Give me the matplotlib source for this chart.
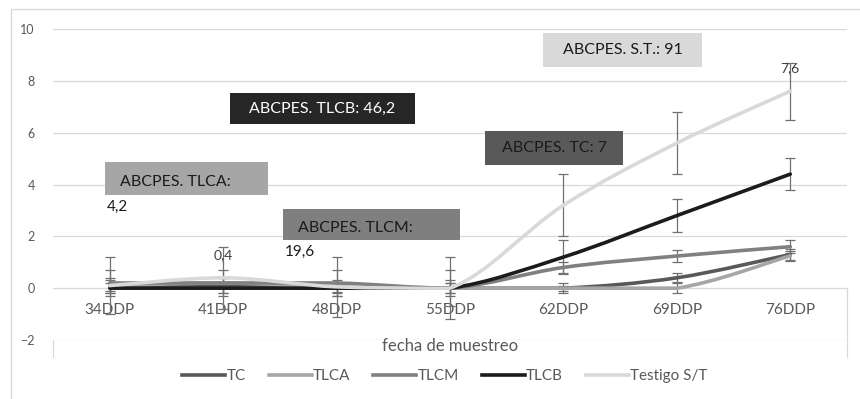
import numpy as np
import matplotlib.pyplot as plt
from matplotlib.path import Path
from matplotlib.patches import PathPatch, Rectangle
from matplotlib.lines import Line2D

plt.rcParams['font.family'] = ['Lato', 'DejaVu Sans']

# sampling dates and series values
fechas = ['34DDP', '41DDP', '48DDP', '55DDP', '62DDP', '69DDP', '76DDP']
tc = [0.1, 0.1, 0.0, 0.0, 0.0, 0.4, 1.3]
tlca = [0.1, 0.2, 0.05, 0.0, 0.0, 0.0, 1.25]
tlcm = [0.2, 0.2, 0.2, 0.0, 0.8, 1.24, 1.6]
tlcb = [0.0, 0.0, 0.0, 0.0, 1.2, 2.8, 4.4]
testigo = [0.1, 0.4, 0.05, 0.0, 3.2, 5.6, 7.6]

# error bar half-widths
err_tc = [0.3, 0.3, 0.3, 0.3, 0.1, 0.17, 0.2]
err_tlca = [0.2, 0.2, 0.2, 0.2, 0.2, 0.2, 0.2]
err_tlcm = [0.5, 0.5, 0.5, 0.7, 0.2, 0.24, 0.25]
err_tlcb = [0.2, 0.2, 0.2, 0.2, 0.65, 0.63, 0.63]
err_testigo = [1.1, 1.2, 1.15, 1.2, 1.2, 1.2, 1.1]

series = [
    ('TC', tc, err_tc, '#595959'),
    ('TLCA', tlca, err_tlca, '#a6a6a6'),
    ('TLCM', tlcm, err_tlcm, '#808080'),
    ('TLCB', tlcb, err_tlcb, '#1c1c1c'),
    ('Testigo S/T', testigo, err_testigo, '#d9d9d9'),
]

# value labels shown on the Testigo series
etiquetas = {1: '0,4', 6: '7,6'}

# summary boxes: text, fill, text colour, overflow text, left/top/right/bottom in px
cajas = [
    ('ABCPES. TLCB: 46,2', '#262626', 'white', None, (230, 93, 415, 124)),
    ('ABCPES. TLCA:', '#a6a6a6', '#1a1a1a', '4,2', (105, 162, 268, 195)),
    ('ABCPES. TLCM:', '#7f7f7f', '#1a1a1a', '19,6', (283, 209, 460, 240)),
    ('ABCPES. TC: 7', '#595959', '#1a1a1a', None, (485, 131, 623, 165)),
    ('ABCPES. S.T.: 91', '#d9d9d9', '#1a1a1a', None, (543, 33, 702, 67)),
]

W, H = 860, 399


def smooth_path(x, y):
    """Bezier path through the points; control points are kept inside each
    segment's value range so flat stretches stay flat."""
    pts = np.column_stack([x, y]).astype(float)
    verts = [pts[0]]
    codes = [Path.MOVETO]
    n = len(pts)
    for i in range(n - 1):
        p0 = pts[max(i - 1, 0)]
        p1 = pts[i]
        p2 = pts[i + 1]
        p3 = pts[min(i + 2, n - 1)]
        c1 = p1 + (p2 - p0) / 6.0
        c2 = p2 - (p3 - p1) / 6.0
        lo, hi = min(p1[1], p2[1]), max(p1[1], p2[1])
        c1[1] = np.clip(c1[1], lo, hi)
        c2[1] = np.clip(c2[1], lo, hi)
        verts += [c1, c2, p2]
        codes += [Path.CURVE4] * 3
    return Path(verts, codes)


def px(x, y):
    return x / W, 1 - y / H


fig = plt.figure(figsize=(8.6, 3.99), dpi=100)
ax = fig.add_axes([53 / W, (H - 340) / H, 794 / W, 311 / H])

x = np.arange(len(fechas))
for nombre, vals, err, color in series:
    ax.errorbar(x, vals, yerr=err, fmt='none', ecolor='#707070',
                elinewidth=0.9, capsize=3.5, capthick=0.9, zorder=2)
for nombre, vals, err, color in series:
    ax.add_patch(PathPatch(smooth_path(x, vals), facecolor='none',
                           edgecolor=color, lw=2.6, zorder=3,
                           capstyle='round', joinstyle='round'))

for i, txt in etiquetas.items():
    ax.annotate(txt, (x[i], testigo[i]), xytext=(0, 12), textcoords='offset points',
                ha='center', va='bottom', fontsize=10, color='#404040', zorder=4)

ax.set_xlim(-0.5, len(fechas) - 0.5)
ax.set_ylim(-2, 10)
ax.set_yticks(range(-2, 11, 2))
ax.set_xticks(x)
ax.set_xticklabels(fechas)
ax.grid(axis='y', color='#d9d9d9', lw=0.9)
ax.set_axisbelow(True)
for s in ['top', 'left', 'right']:
    ax.spines[s].set_visible(False)
ax.spines['bottom'].set_position(('data', 0))
ax.spines['bottom'].set_color('#d9d9d9')
ax.tick_params(axis='both', length=0, labelcolor='#595959')
ax.tick_params(axis='y', pad=13, labelsize=9)
ax.tick_params(axis='x', pad=11, labelsize=11)

fig.text(*px(450, 346), 'fecha de muestreo', ha='center', va='center',
         fontsize=12, color='#595959')

# chart frame and the short plot-area edges below the category axis
fig.patches.append(Rectangle(px(11, 420), 900 / W, 411 / H, transform=fig.transFigure,
                             fill=False, edgecolor='#d9d9d9', lw=1))
fig.lines.append(Line2D([53 / W, 53 / W], [px(0, 340)[1], px(0, 357)[1]],
                        transform=fig.transFigure, color='#d9d9d9', lw=0.9))
fig.lines.append(Line2D([847 / W, 847 / W], [px(0, 288)[1], px(0, 357)[1]],
                        transform=fig.transFigure, color='#d9d9d9', lw=0.9))

for texto, fondo, color, extra, (l, t, r, b) in cajas:
    x0, y0 = px(l, b)
    fig.patches.append(Rectangle((x0, y0), (r - l) / W, (b - t) / H,
                                 transform=fig.transFigure, facecolor=fondo,
                                 edgecolor='none', zorder=5))
    if extra is None:
        fig.text(*px((l + r) / 2, (t + b) / 2), texto, ha='center', va='center',
                 fontsize=11.5, color=color, zorder=6)
    else:
        fig.text(*px(l + 15, (t + b) / 2 + 3), texto, ha='left', va='center',
                 fontsize=11.5, color=color, zorder=6)
        fig.text(*px(l + 2, b + 12), extra, ha='left', va='center',
                 fontsize=11, color='#1a1a1a', zorder=6)

handles = [Line2D([], [], color=c, lw=2.6) for _, _, _, c in series]
fig.legend(handles, [s[0] for s in series], loc='center', bbox_to_anchor=px(445, 376),
           ncol=5, frameon=False, fontsize=11, handlelength=2.8, handletextpad=0.1,
           columnspacing=1.5, labelcolor='#595959')

fig.savefig('out.png', dpi=100)
